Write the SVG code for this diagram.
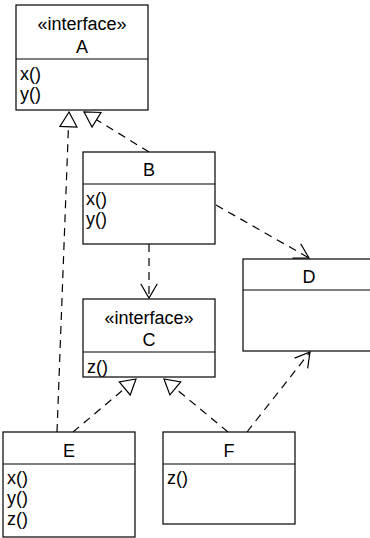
<svg xmlns="http://www.w3.org/2000/svg" width="370" height="538" viewBox="0 0 370 538">
  <style>
    .box { fill: #fff; stroke: #000; stroke-width: 1.2; }
    .div { stroke: #000; stroke-width: 1.2; }
    .t { font-family: "Liberation Sans", Arial, sans-serif; font-size: 18px; fill: #000; }
    .c { text-anchor: middle; }
    .dep { fill: none; stroke: #000; stroke-width: 1.2; stroke-dasharray: 8 6; }
  </style>
  <defs>
    <!-- hollow triangle: realization -->
    <marker id="realize" markerUnits="userSpaceOnUse" viewBox="-16 -10 18 20" refX="0" refY="0" markerWidth="18" markerHeight="20" orient="auto" overflow="visible">
      <path d="M0,0 L-14.7,-8.5 L-14.7,8.5 Z" fill="#fff" stroke="#000" stroke-width="1.2"/>
    </marker>
    <!-- open arrowhead: dependency -->
    <marker id="open" markerUnits="userSpaceOnUse" viewBox="-16 -10 18 20" refX="0" refY="0" markerWidth="18" markerHeight="20" orient="auto" overflow="visible">
      <path d="M-14.3,-8.3 L0,0 L-14.3,8.3" fill="none" stroke="#000" stroke-width="1.2"/>
    </marker>
  </defs>

  <g id="connectors">
    <line class="dep" x1="57" y1="432" x2="69" y2="112" marker-end="url(#realize)"/>
    <line class="dep" x1="149" y1="152" x2="84" y2="112" marker-end="url(#realize)"/>
    <line class="dep" x1="216" y1="205" x2="309" y2="258" marker-end="url(#open)"/>
    <line class="dep" x1="149" y1="244" x2="149" y2="298" marker-end="url(#open)"/>
    <line class="dep" x1="73" y1="432" x2="136" y2="379" marker-end="url(#realize)"/>
    <line class="dep" x1="228" y1="432" x2="164" y2="379" marker-end="url(#realize)"/>
    <line class="dep" x1="247" y1="432" x2="310" y2="352" marker-end="url(#open)"/>
  </g>

  <g id="A">
    <rect class="box" x="16" y="5" width="132" height="105"/>
    <line class="div" x1="16" y1="59" x2="148" y2="59"/>
    <text class="t c" x="82" y="30">«interface»</text>
    <text class="t c" x="82" y="53">A</text>
    <text class="t" x="20" y="80">x()</text>
    <text class="t" x="20" y="100">y()</text>
  </g>

  <g id="B">
    <rect class="box" x="83" y="152" width="132" height="92"/>
    <line class="div" x1="83" y1="184" x2="215" y2="184"/>
    <text class="t c" x="149" y="176">B</text>
    <text class="t" x="86" y="205">x()</text>
    <text class="t" x="86" y="225">y()</text>
  </g>

  <g id="C">
    <rect class="box" x="83" y="299" width="132" height="78"/>
    <line class="div" x1="83" y1="352" x2="215" y2="352"/>
    <text class="t c" x="149" y="324">«interface»</text>
    <text class="t c" x="149" y="346">C</text>
    <text class="t" x="87" y="373">z()</text>
  </g>

  <g id="D">
    <rect class="box" x="243" y="259" width="132" height="92"/>
    <line class="div" x1="243" y1="290" x2="375" y2="290"/>
    <text class="t c" x="309" y="283">D</text>
  </g>

  <g id="E">
    <rect class="box" x="3" y="432" width="132" height="105"/>
    <line class="div" x1="3" y1="464" x2="135" y2="464"/>
    <text class="t c" x="69" y="457">E</text>
    <text class="t" x="7" y="484">x()</text>
    <text class="t" x="7" y="504">y()</text>
    <text class="t" x="7" y="525">z()</text>
  </g>

  <g id="F">
    <rect class="box" x="163" y="432" width="132" height="92"/>
    <line class="div" x1="163" y1="464" x2="295" y2="464"/>
    <text class="t c" x="229" y="457">F</text>
    <text class="t" x="167" y="484">z()</text>
  </g>
</svg>
